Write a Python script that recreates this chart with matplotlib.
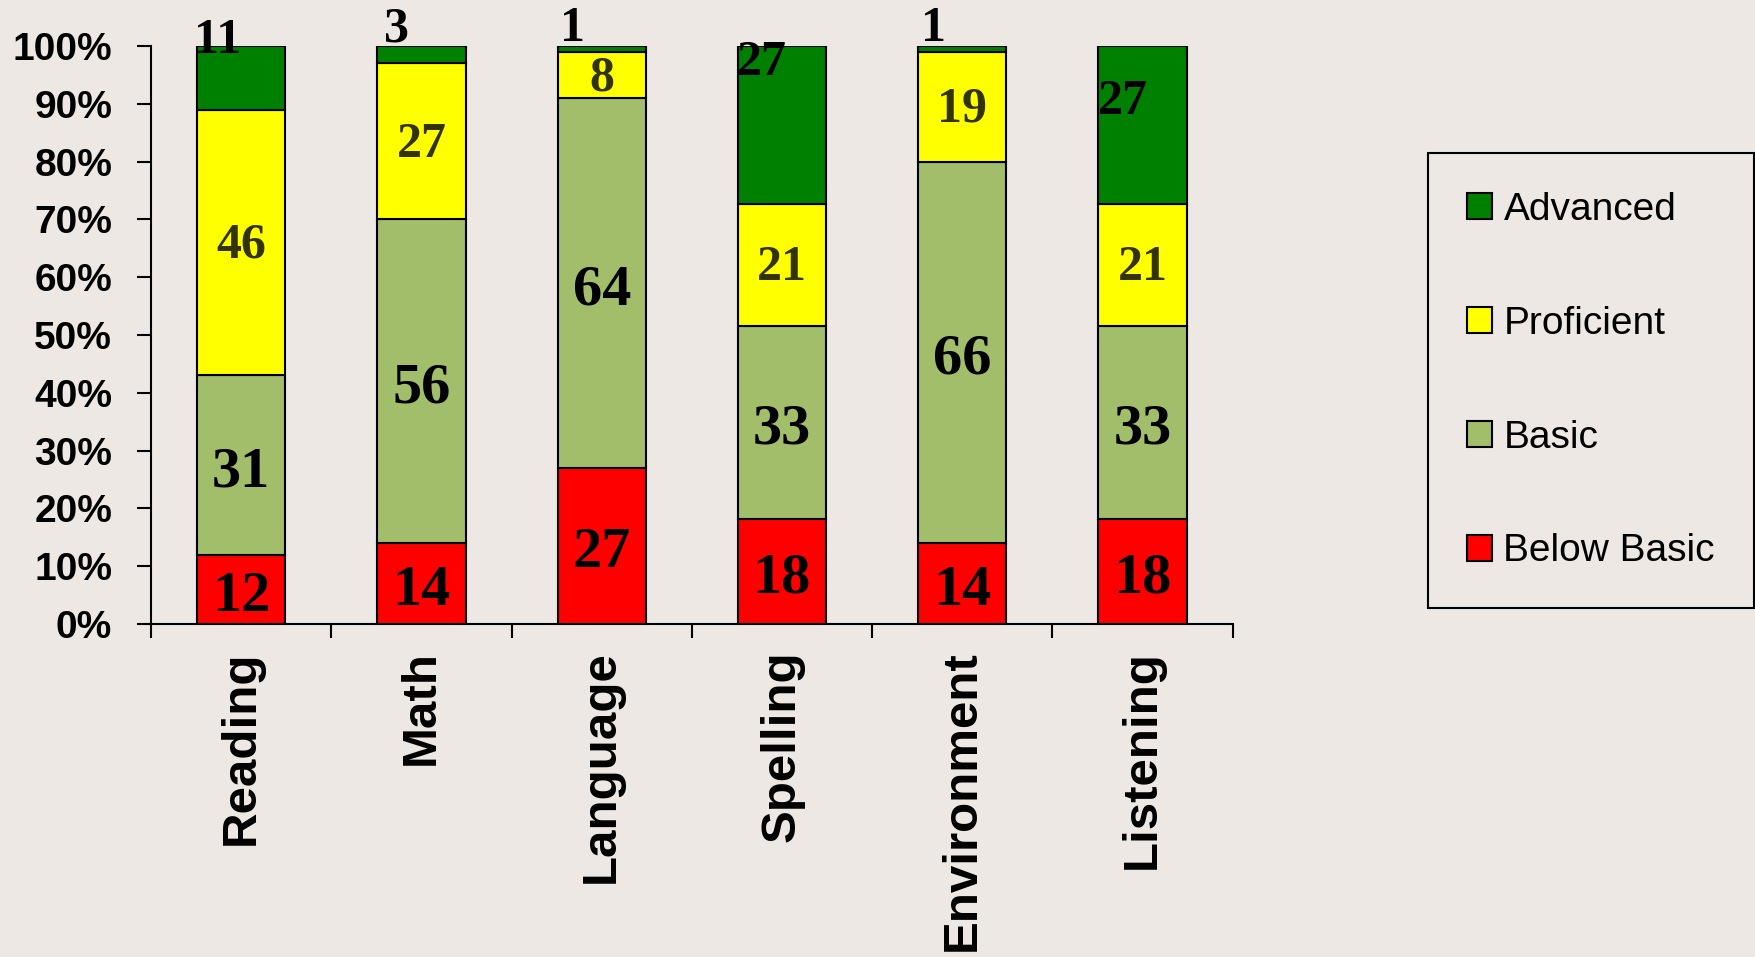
import matplotlib
matplotlib.use("Agg")
import matplotlib.pyplot as plt
import numpy as np

# data (counts per level, each subject)
subjects = ['Reading', 'Math', 'Language', 'Spelling', 'Environment', 'Listening']
levels = ['Below Basic', 'Basic', 'Proficient', 'Advanced']
below_basic = [12, 14, 27, 18, 14, 18]
basic = [31, 56, 64, 33, 66, 33]
proficient = [46, 27, 8, 21, 19, 21]
advanced = [11, 3, 1, 27, 1, 27]

colors = ['#FF0000', '#A2BE6A', '#FFFF00', '#008000']
bg = '#EDE8E4'

# where the excel labels for the "Advanced" series ended up (offsets, axes units)
adv_dx = [-0.13, -0.14, -0.16, -0.11, -0.16, -0.11]
adv_y = [1.014, 1.035, 1.035, 0.977, 1.035, 0.909]

series = np.array([below_basic, basic, proficient, advanced], dtype=float)
totals = series.sum(axis=0)
shares = series / totals

fig = plt.figure(figsize=(17.56, 9.57), dpi=100, facecolor=bg)
ax = fig.add_axes([0.086, 0.348, 0.616, 0.604])
ax.set_facecolor(bg)

x = np.arange(len(subjects))
bottom = np.zeros(len(subjects))
bars = []
for k in range(len(levels)):
    b = ax.bar(x, shares[k], 0.49, bottom=bottom, color=colors[k],
               edgecolor='black', linewidth=1.5, label=levels[k], zorder=2)
    bars.append(b)
    bottom = bottom + shares[k]

# value labels
big = dict(family='Liberation Serif', weight='bold', fontsize=42, color='black')
small = dict(family='Liberation Serif', weight='bold', fontsize=36)
bottom = np.zeros(len(subjects))
for k in range(3):
    for i in range(len(subjects)):
        yc = bottom[i] + shares[k][i] / 2
        if k == 2:
            ax.annotate(str(int(series[k][i])), (x[i], yc), xytext=(0, -2.4),
                        textcoords='offset points', ha='center', va='center',
                        color='#333300', **small)
        else:
            ax.annotate(str(int(series[k][i])), (x[i], yc), xytext=(0, -5.3),
                        textcoords='offset points', ha='center', va='center', **big)
    bottom = bottom + shares[k]
for i in range(len(subjects)):
    ax.annotate(str(advanced[i]), (x[i] + adv_dx[i], adv_y[i]), xytext=(0, -2.4),
                textcoords='offset points', ha='center', va='center',
                color='black', annotation_clip=False, **small)

ax.set_ylim(0, 1)
ax.set_xlim(-0.5, len(subjects) - 0.5)
ax.set_yticks(np.arange(0, 1.01, 0.1))
ax.set_yticklabels(['{:.0%}'.format(v) for v in np.arange(0, 1.01, 0.1)],
                   family='Liberation Sans', weight='bold', fontsize=28)
ax.set_xticks(np.arange(len(subjects) + 1) - 0.5)
ax.set_xticklabels([])
ax.set_xticks(x, minor=True)
ax.set_xticklabels(subjects, minor=True, rotation=90, family='Liberation Sans',
                   weight='bold', fontsize=35.5, va='top')
ax.tick_params(axis='x', which='minor', length=0, pad=19)
ax.tick_params(axis='x', which='major', length=10, width=1.5, direction='out')
ax.tick_params(axis='y', length=10, width=1.5, direction='out', pad=18)

for s in ['top', 'right']:
    ax.spines[s].set_visible(False)
for s in ['left', 'bottom']:
    ax.spines[s].set_linewidth(1.5)
    ax.spines[s].set_zorder(3)

handles = bars[::-1]
leg = fig.legend(handles, levels[::-1], loc='upper left', bbox_to_anchor=(0.813, 0.840),
                 prop={'family': 'Liberation Sans', 'size': 28}, frameon=True,
                 fancybox=False, edgecolor='black', facecolor=bg, framealpha=1,
                 handlelength=0.65, handleheight=0.65, handletextpad=0.3,
                 labelspacing=2.0, borderpad=1.0, borderaxespad=0)
leg.get_frame().set_linewidth(1.5)

fig.savefig('out.png', dpi=100, facecolor=bg)
